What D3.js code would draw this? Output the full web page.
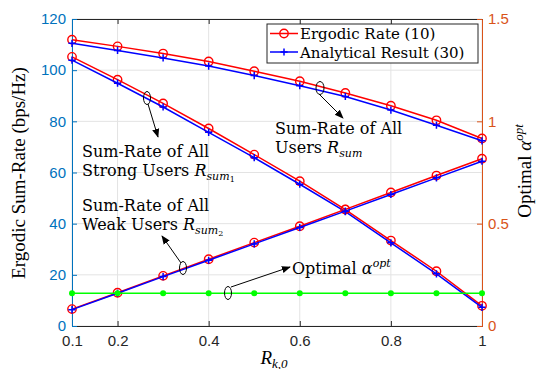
<!DOCTYPE html>
<html><head><meta charset="utf-8">
<script src="https://cdn.jsdelivr.net/npm/d3@7"></script>
<style>body{margin:0;background:#fff}svg{display:block}</style>
</head><body>
<svg id="c" width="536" height="369"></svg>
<script>
const xVals = [0.1,0.2,0.3,0.4,0.5,0.6,0.7,0.8,0.9,1.0];
const sumErg    = [111.9,109.3,106.5,103.4,99.6,95.7,91.1,86.1,80.4,73.3];
const sumAna    = [110.5,107.7,104.8,101.6,97.9,93.9,89.7,84.4,78.5,72.4];
const strongErg = [105.2,96.3,87.0,77.2,67.0,56.6,45.5,33.4,21.4,7.9];
const strongAna = [103.9,94.9,85.6,75.7,65.8,55.4,44.7,32.5,20.4,7.3];
const weakErg   = [6.6,13.0,19.6,26.1,32.6,39.0,45.6,52.2,58.8,65.4];
const weakAna   = [6.4,12.8,19.3,25.7,32.1,38.5,44.9,51.4,57.9,64.4];
const alphaOpt  = [0.16,0.16,0.16,0.16,0.16,0.16,0.16,0.16,0.16,0.16];
const xTicks = [0.1,0.2,0.4,0.6,0.8,1];
const yTicks = [0,20,40,60,80,100,120];
const y2Ticks = [0,0.5,1,1.5];
const legendLabels = ["Ergodic Rate (10)","Analytical Result (30)"];

const svg = d3.select("#c");
const L=72,R=482,T=19,B=326;
const x = d3.scaleLinear().domain([0.1,1]).range([L,R]);
const y = d3.scaleLinear().domain([0,120]).range([B,T]);
const y2 = d3.scaleLinear().domain([0,1.5]).range([B,T]);
const BLUE="#0072BD", ORANGE="#D95319", DARK="#262626";
const RED="#ff0000", LBLUE="#0000ff", GREEN="#00ff00";
const SANS="Liberation Sans, Arial, sans-serif";
const SERIF="DejaVu Serif, serif";
const SERIF2="Liberation Serif, serif";

// grid
const g = svg.append("g");
g.selectAll(".gx").data(xTicks).join("line").attr("x1",d=>x(d)).attr("x2",d=>x(d)).attr("y1",T).attr("y2",B).attr("stroke","#e3e3e3").attr("stroke-width",1);
g.selectAll(".gy").data(yTicks).join("line").attr("y1",d=>y(d)).attr("y2",d=>y(d)).attr("x1",L).attr("x2",R).attr("stroke","#e3e3e3").attr("stroke-width",1);

// axes
const xb = svg.append("g").attr("transform",`translate(0,${B})`).call(d3.axisBottom(x).tickValues(xTicks).tickSize(-5).tickPadding(9).tickFormat(d=>d3.format("")(d)));
xb.select(".domain").attr("stroke",DARK);
xb.selectAll(".tick line").attr("stroke",DARK);
xb.selectAll("text").attr("fill",DARK).style("font-family",SANS).style("font-size","15px");
const xt = svg.append("g").attr("transform",`translate(0,${T})`).call(d3.axisTop(x).tickValues(xTicks).tickSize(-5).tickFormat(""));
xt.select(".domain").attr("stroke",DARK);
xt.selectAll(".tick line").attr("stroke",DARK);

const yl = svg.append("g").attr("transform",`translate(${L},0)`).call(d3.axisLeft(y).tickValues(yTicks).tickSize(-5).tickPadding(6));
yl.select(".domain").attr("stroke",BLUE);
yl.selectAll(".tick line").attr("stroke",BLUE);
yl.selectAll("text").attr("fill",BLUE).style("font-family",SANS).style("font-size","15px");

const yr = svg.append("g").attr("transform",`translate(${R},0)`).call(d3.axisRight(y2).tickValues(y2Ticks).tickSize(-5).tickPadding(6).tickFormat(d=>d3.format("")(d)));
yr.select(".domain").attr("stroke",ORANGE);
yr.selectAll(".tick line").attr("stroke",ORANGE);
yr.selectAll("text").attr("fill",ORANGE).style("font-family",SANS).style("font-size","15px");
svg.selectAll(".domain").attr("stroke-width",1);

// series
const line = (ys,sc)=>d3.line().x((d,i)=>x(xVals[i])).y(d=>sc(d))(ys);
function circles(ys,sc,col){
  svg.append("g").selectAll("circle").data(ys).join("circle")
    .attr("cx",(d,i)=>x(xVals[i])).attr("cy",d=>sc(d)).attr("r",4.2)
    .attr("fill","none").attr("stroke",col).attr("stroke-width",1.4);
}
function pluses(ys,sc,col){
  const s=3.6;
  svg.append("g").selectAll("path").data(ys).join("path")
    .attr("d",(d,i)=>{const cx=x(xVals[i]),cy=sc(d);return `M${cx-s},${cy}H${cx+s}M${cx},${cy-s}V${cy+s}`;})
    .attr("stroke",col).attr("stroke-width",1.5);
}
[[sumErg,sumAna],[strongErg,strongAna],[weakErg,weakAna]].forEach(([e,a])=>{
  svg.append("path").attr("d",line(e,y)).attr("fill","none").attr("stroke",RED).attr("stroke-width",1.5);
  circles(e,y,RED);
  svg.append("path").attr("d",line(a,y)).attr("fill","none").attr("stroke",LBLUE).attr("stroke-width",1.5);
  pluses(a,y,LBLUE);
});
svg.append("path").attr("d",line(alphaOpt,y2)).attr("fill","none").attr("stroke",GREEN).attr("stroke-width",1.5);
svg.append("g").selectAll("circle").data(alphaOpt).join("circle")
  .attr("cx",(d,i)=>x(xVals[i])).attr("cy",d=>y2(d)).attr("r",3).attr("fill",GREEN);

// legend
const lg = svg.append("g");
lg.append("rect").attr("x",267).attr("y",24).attr("width",211).attr("height",39).attr("fill","#fff").attr("stroke",DARK).attr("stroke-width",1);
[[RED,"c"],[LBLUE,"p"]].forEach(([col,m],i)=>{
  const cy=33.5+i*18.5;
  lg.append("line").attr("x1",270).attr("x2",298).attr("y1",cy).attr("y2",cy).attr("stroke",col).attr("stroke-width",1.5);
  if(m==="c") lg.append("circle").attr("cx",284).attr("cy",cy).attr("r",4.2).attr("fill","none").attr("stroke",col).attr("stroke-width",1.4);
  else lg.append("path").attr("d",`M280.4,${cy}H287.6M284,${cy-3.6}V${cy+3.6}`).attr("stroke",col).attr("stroke-width",1.5);
  lg.append("text").attr("x",300).attr("y",cy+5.5).text(legendLabels[i])
    .style("font-family",SERIF).style("font-size","15px").attr("fill","#000");
});

// annotations
function txt(xp,yp,parts,fs){
  const t=svg.append("text").attr("x",xp).attr("y",yp).style("font-family",SERIF).style("font-size",fs+"px").attr("fill","#000");
  parts.forEach(p=>{
    const s=t.append("tspan").text(p.t);
    if(p.i) s.style("font-style","italic");
    if(p.s) s.style("font-size",p.s+"px");
    if(p.dy) s.attr("dy",p.dy);
  });
  return t;
}
const FS=16;
txt(275,134,[{t:"Sum-Rate of All"}],FS);
txt(275,153,[{t:"Users "},{t:"R",i:1},{t:"sum",i:1,s:11,dy:4}],FS);
txt(82,157,[{t:"Sum-Rate of All"}],FS);
txt(82,176,[{t:"Strong Users "},{t:"R",i:1},{t:"sum",i:1,s:11,dy:4},{t:"1",s:8,dy:2}],FS);
txt(82,211,[{t:"Sum-Rate of All"}],FS);
txt(82,230,[{t:"Weak Users "},{t:"R",i:1},{t:"sum",i:1,s:11,dy:4},{t:"2",s:8,dy:2}],FS);
txt(292,274,[{t:"Optimal "},{t:"α",i:1},{t:"opt",i:1,s:11,dy:-7}],FS);

// ellipses + arrows
const defs=svg.append("defs");
defs.append("marker").attr("id","ah").attr("viewBox","0 0 10 10").attr("refX",9).attr("refY",5)
  .attr("markerWidth",9).attr("markerHeight",9).attr("markerUnits","userSpaceOnUse").attr("orient","auto")
  .append("path").attr("d","M0,1L10,5L0,9Z").attr("fill","#000");
function ann(cx,cy,rx,ry,x1,y1,x2,y2){
  svg.append("ellipse").attr("cx",cx).attr("cy",cy).attr("rx",rx).attr("ry",ry).attr("fill","none").attr("stroke","#000").attr("stroke-width",1);
  svg.append("line").attr("x1",x1).attr("y1",y1).attr("x2",x2).attr("y2",y2).attr("stroke","#000").attr("stroke-width",1).attr("marker-end","url(#ah)");
}
ann(320,88,4,6.5,319,94,343,118);
ann(147,98,3.5,6.5,148,104,158,137);
ann(183,268,3.5,6.5,181,263,162,236);
ann(228,293,3.5,6.5,231,287,290,267);

// axis labels
svg.append("text").attr("transform","translate(25,173) rotate(-90)").attr("text-anchor","middle")
  .style("font-family",SERIF2).style("font-size","19px").text("Ergodic Sum-Rate (bps/Hz)");
const rl=svg.append("text").attr("transform","translate(531,171) rotate(-90)").attr("text-anchor","middle")
  .style("font-family",SERIF2).style("font-size","19px");
rl.append("tspan").text("Optimal ");
rl.append("tspan").text("α").style("font-style","italic");
rl.append("tspan").text("opt").style("font-style","italic").style("font-size","13px").attr("dy",-8);
const xl=svg.append("text").attr("x",274).attr("y",364).attr("text-anchor","middle").style("font-family",SERIF2).style("font-size","19px");
xl.append("tspan").text("R").style("font-style","italic");
xl.append("tspan").text("k,0").style("font-style","italic").style("font-size","13px").attr("dy",4);
</script>
</body></html>
